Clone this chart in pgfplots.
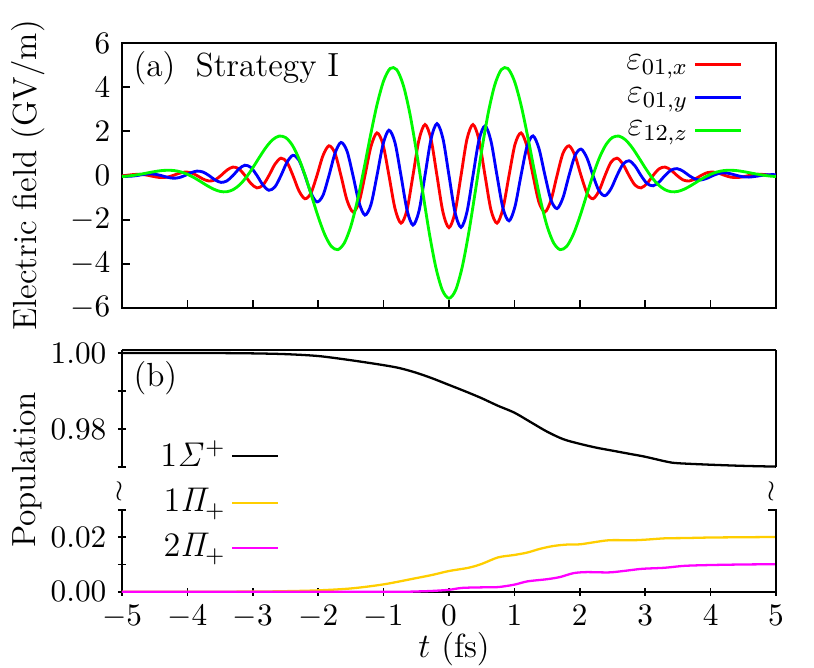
\documentclass[border=0pt]{standalone}
\usepackage{pgfplots}
\pgfplotsset{compat=1.18}
\definecolor{cred}{RGB}{255,0,0}
\definecolor{cblue}{RGB}{0,0,255}
\definecolor{cgreen}{RGB}{0,250,0}
\definecolor{cgold}{RGB}{255,206,0}
\definecolor{cmag}{RGB}{255,0,255}
\newcommand{\tf}{\fontsize{11.7}{14}\selectfont}
\begin{document}
\tf
\begin{tikzpicture}[font=\tf]
\path[use as bounding box] (0pt,0pt) rectangle (284.9pt,-233.8pt);
\pgfplotsset{
  every axis/.append style={scale only axis, width=228.9pt, xmin=-5, xmax=5,
    tick align=inside, major tick length=2.8pt, minor tick length=2.8pt,
    every tick/.style={black, line width=0.6pt},
    scaled y ticks=false, scaled x ticks=false,
    tick label style={font=\fontsize{11}{13}\selectfont}},
}
% ---------- (a) electric field ----------
\begin{axis}[at={(42.7pt,-107.8pt)}, anchor=south west, height=92.75pt,
  ymin=-6, ymax=6, ytick={-6,-4,-2,0,2,4,6},
  xtick={-5,-4,-3,-2,-1,0,1,2,3,4,5}, xticklabels={},
  xtick pos=left, ytick pos=left,
  axis line style={line width=0.7pt},
  legend style={at={(0.9495,0.979)}, anchor=north east, draw=none, fill=none,
    inner sep=0pt, row sep=0.6pt, font=\tf},
  legend plot pos=right, legend cell align=right,
  legend image code/.code={\draw[#1] (0pt,0.1pt) -- (16pt,0.1pt);}]
\addplot[cred, line width=1pt, smooth] coordinates {
(-5,-0.014) (-4.955,0) (-4.863,0.032) (-4.771,0.053) (-4.679,0.043) (-4.588,0) (-4.496,-0.058) (-4.404,-0.093) (-4.312,-0.075) (-4.221,0) (-4.129,0.097) (-4.037,0.156) (-3.945,0.125) (-3.854,0) (-3.762,-0.158) (-3.670,-0.250) (-3.578,-0.198) (-3.487,0) (-3.395,0.244) (-3.303,0.383) (-3.211,0.299) (-3.120,0) (-3.028,-0.362) (-2.936,-0.561) (-2.844,-0.433) (-2.753,0) (-2.661,0.513) (-2.569,0.786) (-2.477,0.600) (-2.386,0) (-2.294,-0.694) (-2.202,-1.052) (-2.110,-0.794) (-2.019,0) (-1.927,0.899) (-1.835,1.346) (-1.743,1.006) (-1.652,0) (-1.560,-1.113) (-1.468,-1.648) (-1.376,-1.217) (-1.285,0) (-1.193,1.317) (-1.101,1.928) (-1.009,1.408) (-0.918,0) (-0.826,-1.490) (-0.734,-2.157) (-0.642,-1.558) (-0.551,0) (-0.459,1.611) (-0.367,2.308) (-0.275,1.648) (-0.184,0) (-0.092,-1.666)
(0,-2.360)
(0.092,-1.666) (0.184,0) (0.275,1.648) (0.367,2.308) (0.459,1.611) (0.551,0) (0.642,-1.558) (0.734,-2.157) (0.826,-1.490) (0.918,0) (1.009,1.408) (1.101,1.928) (1.193,1.317) (1.285,0) (1.376,-1.217) (1.468,-1.648) (1.560,-1.113) (1.652,0) (1.743,1.006) (1.835,1.346) (1.927,0.899) (2.019,0) (2.110,-0.794) (2.202,-1.052) (2.294,-0.694) (2.386,0) (2.477,0.600) (2.569,0.786) (2.661,0.513) (2.753,0) (2.844,-0.433) (2.936,-0.561) (3.028,-0.362) (3.120,0) (3.211,0.299) (3.303,0.383) (3.395,0.244) (3.487,0) (3.578,-0.198) (3.670,-0.250) (3.762,-0.158) (3.854,0) (3.945,0.125) (4.037,0.156) (4.129,0.097) (4.221,0) (4.312,-0.075) (4.404,-0.093) (4.496,-0.058) (4.588,0) (4.679,0.043) (4.771,0.053) (4.863,0.032) (4.955,0) (5,-0.014)
};
\addlegendentry{$\varepsilon_{01,x}$}
\addplot[cblue, line width=1pt, smooth] coordinates {
(-5,-0.034) (-4.955,-0.039) (-4.863,-0.032) (-4.771,0) (-4.679,0.043) (-4.588,0.071) (-4.496,0.058) (-4.404,0) (-4.312,-0.075) (-4.221,-0.121) (-4.129,-0.097) (-4.037,0) (-3.945,0.125) (-3.854,0.199) (-3.762,0.158) (-3.670,0) (-3.578,-0.198) (-3.487,-0.311) (-3.395,-0.244) (-3.303,0) (-3.211,0.299) (-3.120,0.466) (-3.028,0.362) (-2.936,0) (-2.844,-0.433) (-2.753,-0.668) (-2.661,-0.513) (-2.569,0) (-2.477,0.600) (-2.386,0.914) (-2.294,0.694) (-2.202,0) (-2.110,-0.794) (-2.019,-1.197) (-1.927,-0.899) (-1.835,0) (-1.743,1.006) (-1.652,1.498) (-1.560,1.113) (-1.468,0) (-1.376,-1.217) (-1.285,-1.793) (-1.193,-1.317) (-1.101,0) (-1.009,1.408) (-0.918,2.051) (-0.826,1.490) (-0.734,0) (-0.642,-1.558) (-0.551,-2.244) (-0.459,-1.611) (-0.367,0) (-0.275,1.648) (-0.184,2.347) (-0.092,1.666)
(0,0)
(0.092,-1.666) (0.184,-2.347) (0.275,-1.648) (0.367,0) (0.459,1.611) (0.551,2.244) (0.642,1.558) (0.734,0) (0.826,-1.490) (0.918,-2.051) (1.009,-1.408) (1.101,0) (1.193,1.317) (1.285,1.793) (1.376,1.217) (1.468,0) (1.560,-1.113) (1.652,-1.498) (1.743,-1.006) (1.835,0) (1.927,0.899) (2.019,1.197) (2.110,0.794) (2.202,0) (2.294,-0.694) (2.386,-0.914) (2.477,-0.600) (2.569,0) (2.661,0.513) (2.753,0.668) (2.844,0.433) (2.936,0) (3.028,-0.362) (3.120,-0.466) (3.211,-0.299) (3.303,0) (3.395,0.244) (3.487,0.311) (3.578,0.198) (3.670,0) (3.762,-0.158) (3.854,-0.199) (3.945,-0.125) (4.037,0) (4.129,0.097) (4.221,0.121) (4.312,0.075) (4.404,0) (4.496,-0.058) (4.588,-0.071) (4.679,-0.043) (4.771,0) (4.863,0.032) (4.955,0.039) (5,0.034)
};
\addlegendentry{$\varepsilon_{01,y}$}
\addplot[cgreen, line width=1pt, smooth] coordinates {
(-5.0,-0.047) (-4.9,-0.022) (-4.8,0.017) (-4.7,0.067) (-4.6,0.123) (-4.5,0.178) (-4.4,0.221) (-4.3,0.239) (-4.2,0.222) (-4.1,0.162) (-4.0,0.055) (-3.9,-0.094) (-3.8,-0.271) (-3.7,-0.455) (-3.6,-0.615) (-3.5,-0.720) (-3.4,-0.737) (-3.3,-0.640) (-3.2,-0.419) (-3.1,-0.080) (-3.0,0.350) (-2.9,0.820) (-2.8,1.266) (-2.7,1.612) (-2.6,1.784) (-2.5,1.722) (-2.4,1.394) (-2.3,0.804) (-2.2,0.000) (-2.1,-0.932) (-2.0,-1.870) (-1.9,-2.673) (-1.8,-3.207) (-1.7,-3.357) (-1.6,-3.053) (-1.5,-2.290) (-1.4,-1.130) (-1.3,0.299) (-1.2,1.817) (-1.1,3.214) (-1.0,4.281) (-0.9,4.846) (-0.8,4.796) (-0.7,4.102) (-0.6,2.831) (-0.5,1.134) (-0.4,-0.770) (-0.3,-2.625) (-0.2,-4.174) (-0.1,-5.201)
(0,-5.560)
(0.1,-5.201) (0.2,-4.174) (0.3,-2.625) (0.4,-0.770) (0.5,1.134) (0.6,2.831) (0.7,4.102) (0.8,4.796) (0.9,4.846) (1.0,4.281) (1.1,3.214) (1.2,1.817) (1.3,0.299) (1.4,-1.130) (1.5,-2.290) (1.6,-3.053) (1.7,-3.357) (1.8,-3.207) (1.9,-2.673) (2.0,-1.870) (2.1,-0.932) (2.2,0.000) (2.3,0.804) (2.4,1.394) (2.5,1.722) (2.6,1.784) (2.7,1.612) (2.8,1.266) (2.9,0.820) (3.0,0.350) (3.1,-0.080) (3.2,-0.419) (3.3,-0.640) (3.4,-0.737) (3.5,-0.720) (3.6,-0.615) (3.7,-0.455) (3.8,-0.271) (3.9,-0.094) (4.0,0.055) (4.1,0.162) (4.2,0.222) (4.3,0.239) (4.4,0.221) (4.5,0.178) (4.6,0.123) (4.7,0.067) (4.8,0.017) (4.9,-0.022) (5.0,-0.047)
};
\addlegendentry{$\varepsilon_{12,z}$}
\end{axis}
% ---------- (b) upper part ----------
\begin{axis}[at={(42.7pt,-163.45pt)}, anchor=south west, height=41.1pt,
  ymin=0.97, ymax=1.0009, ytick={0.97,0.98,0.99,1.00},
  yticklabels={{},$0.98$,{},$1.00$}, xtick=\empty,
  axis x line=top, axis y line=left, axis line style={-, line width=0.7pt}, clip=false]
\addplot[black, line width=0.8pt, smooth] coordinates {
(-5,1.0000) (-4.5,1.0000) (-4,1.0000) (-3.5,0.99998) (-3,0.9999) (-2.5,0.9997) (-2,0.9992) (-1.5,0.9981) (-1,0.9968) (-0.75,0.9960) (-0.5,0.9948) (-0.25,0.9933) (0,0.9916) (0.25,0.9899) (0.5,0.9881) (0.75,0.9861) (1.0,0.9843) (1.25,0.9818) (1.5,0.9793) (1.75,0.9773) (2.0,0.9761) (2.25,0.9751) (2.5,0.9743) (2.75,0.9735) (3.0,0.9727) (3.33,0.9714) (3.5,0.9710) (4.0,0.9706) (4.5,0.9703) (5.0,0.9701)
};
\draw[line width=0.7pt] (rel axis cs:1,0) -- (rel axis cs:1,1);
\end{axis}
% ---------- (b) lower part ----------
\begin{axis}[at={(42.7pt,-207.1pt)}, anchor=south west, height=28.6pt,
  ymin=0, ymax=0.03, ytick={0,0.01,0.02,0.03},
  yticklabels={$0.00$,{},$0.02$,{}},
  xtick={-5,-4,-3,-2,-1,0,1,2,3,4,5},
  xticklabel style={yshift=0.7pt},
  axis x line=bottom, axis y line=left, axis line style={-, line width=0.7pt}, clip=false,
  legend style={at={(0.049,1.925)}, anchor=north west, draw=none, fill=none,
    inner sep=0pt, row sep=1.8pt, font=\tf},
  legend plot pos=right, legend cell align=right,
  legend image code/.code={\draw[#1] (0pt,0pt) -- (16pt,0pt);}]
\addlegendimage{black, line width=0.8pt}
\addlegendentry{$1\mathit{\Sigma}^+$}
\addplot[cgold, line width=0.8pt, smooth] coordinates {
(-5,0) (-4,0) (-3,0.00005) (-2.5,0.0002) (-2,0.0005) (-1.5,0.0012) (-1,0.0027) (-0.5,0.0050) (-0.25,0.0062) (0,0.0076) (0.3,0.0088) (0.5,0.0102) (0.75,0.0126) (1.0,0.0135) (1.2,0.0144) (1.4,0.0158) (1.6,0.0168) (1.8,0.0173) (2.0,0.0174) (2.2,0.0181) (2.45,0.0189) (2.8,0.0189) (3.0,0.0191) (3.3,0.0196) (3.6,0.0197) (4.0,0.0199) (4.5,0.0200) (5.0,0.0201)
};
\addlegendentry{$1\mathit{\Pi}_+$}
\addplot[cmag, line width=0.8pt, smooth] coordinates {
(-5,0) (-1,0) (-0.5,0.0001) (-0.25,0.0003) (0,0.0007) (0.2,0.0014) (0.5,0.0016) (0.75,0.0017) (1.0,0.0026) (1.2,0.0038) (1.5,0.0046) (1.7,0.0054) (1.9,0.0068) (2.1,0.0072) (2.45,0.0071) (2.7,0.0077) (2.95,0.0084) (3.3,0.0088) (3.6,0.0095) (4.0,0.0098) (4.5,0.0100) (5.0,0.0101)
};
\addlegendentry{$2\mathit{\Pi}_+$}
\draw[line width=0.7pt] (rel axis cs:1,0) -- (rel axis cs:1,1) -- ++(-2.8pt,0pt);
\end{axis}
% ---------- labels ----------
\node[anchor=base west, inner sep=0pt] at (46.55pt,-26.6pt) {(a)};
\node[anchor=base west, inner sep=0pt] at (68.25pt,-26.6pt) {Strategy I};
\node[anchor=base west, inner sep=0pt] at (46.55pt,-135.1pt) {(b)};
\node[rotate=90, inner sep=0pt] at (9.8pt,-61.4pt) {Electric field (GV/m)};
\node[rotate=90, inner sep=0pt] at (9.45pt,-164.5pt) {Population};
\node[anchor=base, inner sep=0pt] at (158.9pt,-230pt) {$t$ (fs)};
\node[inner sep=0pt, font=\fontsize{10}{12}\selectfont] at (41.8pt,-171.8pt) {$\wr$};
\node[inner sep=0pt, font=\fontsize{10}{12}\selectfont] at (270pt,-171.8pt) {$\wr$};
\end{tikzpicture}
\end{document}
